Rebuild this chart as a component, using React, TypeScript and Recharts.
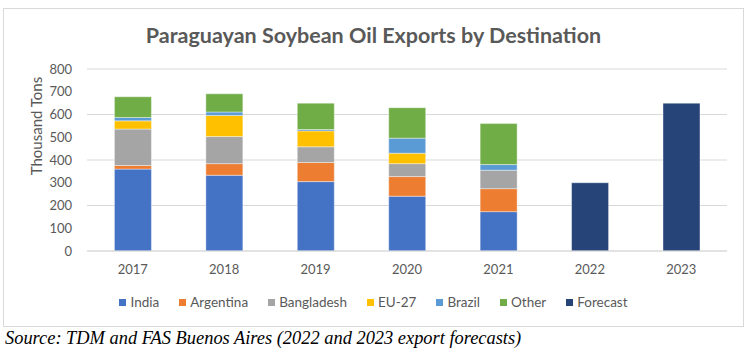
import React from 'react';
import { BarChart, Bar, XAxis, YAxis, CartesianGrid, Legend, Label } from 'recharts';

const years = ['2017', '2018', '2019', '2020', '2021', '2022', '2023'];
const india = [360, 333, 305, 241, 173, null, null];
const argentina = [16, 51, 84, 86, 101, null, null];
const bangladesh = [160, 119, 69, 57, 81, null, null];
const eu27 = [36, 93, 70, 46, 0, null, null];
const brazil = [15, 15, 6, 66, 25, null, null];
const other = [91, 80, 116, 134, 180, null, null];
const forecast = [null, null, null, null, null, 300, 650];
const yTicks = [0, 100, 200, 300, 400, 500, 600, 700, 800];

const series = [
  { key: 'India', values: india, color: '#4472C4' },
  { key: 'Argentina', values: argentina, color: '#ED7D31' },
  { key: 'Bangladesh', values: bangladesh, color: '#A5A5A5' },
  { key: 'EU-27', values: eu27, color: '#FFC000' },
  { key: 'Brazil', values: brazil, color: '#5B9BD5' },
  { key: 'Other', values: other, color: '#70AD47' },
  { key: 'Forecast', values: forecast, color: '#264478' },
];

const data = years.map((y, i) => {
  const row: Record<string, any> = { year: y };
  series.forEach((s) => {
    row[s.key] = s.values[i];
  });
  return row;
});

const FONT = 'Lato, "Open Sans", sans-serif';
const TEXT = '#595959';

const LegendContent = () => (
  <div style={{ display: 'flex', justifyContent: 'center', alignItems: 'center', fontFamily: FONT, fontSize: 13.5, color: TEXT }}>
    {series.map((s, i) => (
      <div key={s.key} style={{ display: 'flex', alignItems: 'center', marginRight: i === series.length - 1 ? 0 : 20 }}>
        <span style={{ display: 'inline-block', width: 7, height: 7, background: s.color, marginRight: 4 }} />
        <span>{s.key}</span>
      </div>
    ))}
  </div>
);

const YLabel = () => (
  <text x={36} y={126} transform="rotate(-90 36 126)" textAnchor="middle" dominantBaseline="central" fill={TEXT} fontSize={15} fontFamily={FONT}>
    Thousand Tons
  </text>
);

export default function App() {
  return (
    <div style={{ position: 'absolute', left: 0, top: 0, width: 753, height: 359, background: '#fff', overflow: 'hidden' }}>
      <div style={{ position: 'absolute', left: 3, top: 8, width: 741, height: 319, border: '1px solid #d9d9d9', boxSizing: 'border-box' }} />
      <div style={{ position: 'absolute', left: 3, top: 21, width: 741, textAlign: 'center', fontFamily: FONT, fontWeight: 700, fontSize: 21.5, color: TEXT, lineHeight: '28px' }}>
        Paraguayan Soybean Oil Exports by Destination
      </div>
      <div style={{ position: 'absolute', left: 0, top: 0 }}>
        <BarChart width={753} height={359} data={data} margin={{ top: 69, right: 26, bottom: 78, left: 0 }} barCategoryGap="30%">
          <CartesianGrid vertical={false} stroke="#d9d9d9" />
          <XAxis dataKey="year" axisLine={{ stroke: '#d9d9d9' }} tickLine={false} tickMargin={8} tick={{ fill: TEXT, fontSize: 13, fontFamily: FONT }} />
          <YAxis width={87} domain={[0, 800]} ticks={yTicks} axisLine={false} tickLine={false} tickMargin={9} tick={{ fill: TEXT, fontSize: 13, fontFamily: FONT }}>
            <Label content={<YLabel />} />
          </YAxis>
          <Legend verticalAlign="middle" align="center" content={<LegendContent />} wrapperStyle={{ position: 'absolute', top: 294, left: 3, width: 741, height: 20 }} />
          {series.map((s) => (
            <Bar key={s.key} dataKey={s.key} stackId="a" fill={s.color} stroke="rgba(255,255,255,0.5)" strokeWidth={0.8} isAnimationActive={false} />
          ))}
        </BarChart>
      </div>
      <div style={{ position: 'absolute', left: 5, top: 327, fontFamily: '"Liberation Serif", "Times New Roman", serif', fontStyle: 'italic', fontSize: 18.4, color: '#000', lineHeight: '22px', whiteSpace: 'nowrap' }}>
        Source: TDM and FAS Buenos Aires (2022 and 2023 export forecasts)
      </div>
    </div>
  );
}
